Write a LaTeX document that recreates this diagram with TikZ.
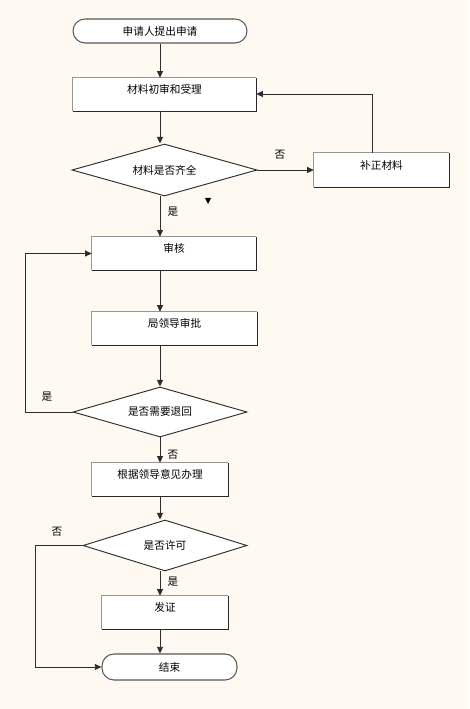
\documentclass[tikz,border=0pt]{standalone}
\usepackage{fontspec}
\newfontfamily\cjk{Noto Sans CJK SC}
\usetikzlibrary{shapes.geometric,arrows.meta}
\definecolor{bg}{RGB}{255,249,242}
\definecolor{lineclr}{RGB}{45,45,45}
\definecolor{lightedge}{RGB}{150,150,150}
\definecolor{darkedge}{RGB}{40,40,40}
\tikzset{
  every node/.style={font=\cjk\fontsize{8pt}{9pt}\selectfont, text=black},
  boxnode/.style={rectangle, fill=white, inner sep=0pt, text height=6pt, text depth=7pt},
  termnode/.style={rectangle, rounded corners=9pt, fill=white, draw=black!65, line width=0.8pt, inner sep=0pt},
  decnode/.style={diamond, fill=white, draw=lineclr, line width=0.7pt, inner sep=0pt},
  arr/.style={draw=lineclr, line width=0.7pt, -{Triangle[length=5pt,width=4.5pt]}},
  ln/.style={draw=lineclr, line width=0.7pt},
  lbl/.style={inner sep=0pt}
}
\begin{document}
\begin{tikzpicture}[x=0.75pt,y=-0.75pt]
\path[fill=bg] (0,0) rectangle (469,709);
\useasboundingbox (0,0) rectangle (469,709);
\coordinate (sp) at (160,0);

% nodes
\node[termnode, minimum width=130.5pt, minimum height=18pt] (start) at (160,31) {申请人提出申请};
\node[boxnode, minimum width=137.25pt, minimum height=24.75pt] (b1) at (164.5,94.5) {材料初审和受理};
\node[decnode, aspect=3.56, minimum width=138.75pt, minimum height=39pt] (d1) at (164.5,170) {材料是否齐全};
\node[boxnode, minimum width=101.25pt, minimum height=25.5pt] (fix) at (381.5,170) {补正材料};
\node[boxnode, minimum width=123pt, minimum height=24.75pt] (rev) at (174,253.5) {审核};
\node[boxnode, minimum width=123.75pt, minimum height=24.75pt] (appr) at (174.5,328.5) {局领导审批};
\node[decnode, aspect=3.48, minimum width=130.5pt, minimum height=37.5pt] (d2) at (160,412) {是否需要退回};
\node[boxnode, minimum width=102pt, minimum height=24.75pt] (proc) at (160,479.5) {根据领导意见办理};
\node[decnode, aspect=3.2, minimum width=123pt, minimum height=38.25pt] (d3) at (165,545.5) {是否许可};
\node[boxnode, minimum width=94.5pt, minimum height=24.75pt] (cert) at (165,612.5) {发证};
\node[termnode, minimum width=101.25pt, minimum height=19.5pt] (end) at (169.5,667) {结束};

% bevelled box borders
\foreach \n in {b1,fix,rev,appr,proc,cert}{
  \draw[lightedge, line width=0.9pt] (\n.south west) |- (\n.north east);
  \draw[darkedge, line width=0.9pt] (\n.south west) -| (\n.north east);
}

% labels
\node[lbl] (l1) at (280,155) {否};
\node[lbl] (l2) at (173,212) {是};
\node[lbl] (l3) at (47,397) {是};
\node[lbl] (l4) at (173,455) {否};
\node[lbl] (l5) at (57,532) {否};
\node[lbl] (l6) at (173,582) {是};

% stray arrow head
\fill[black] (205,198) -- (211,198) -- (208,204) -- cycle;

% connectors
\draw[arr] (start.south -| sp) -- (b1.north -| sp);
\draw[arr] (b1.south -| sp) -- (d1.north -| sp);
\draw[arr] (d1.east) -- (fix.west);
\coordinate (fb) at (372,94);
\draw[arr] (fix.north -| fb) -- (fb) -- (b1.east |- fb);
\draw[arr] (d1.south -| sp) -- (rev.north -| sp);
\draw[arr] (rev.south -| sp) -- (appr.north -| sp);
\draw[arr] (appr.south -| sp) -- (d2.north -| sp);
\coordinate (lp1) at (25,253.5);
\draw[arr] (d2.west) -| (lp1) -- (rev.west);
\draw[arr] (d2.south -| sp) -- (proc.north -| sp);
\draw[arr] (proc.south -| sp) -- (d3.north -| sp);
\coordinate (lp2) at (35,667);
\draw[arr] (d3.west) -| (lp2) -- (end.west);
\draw[arr] (d3.south -| sp) -- (cert.north -| sp);
\draw[arr] (cert.south -| sp) -- (end.north -| sp);
\end{tikzpicture}
\end{document}
